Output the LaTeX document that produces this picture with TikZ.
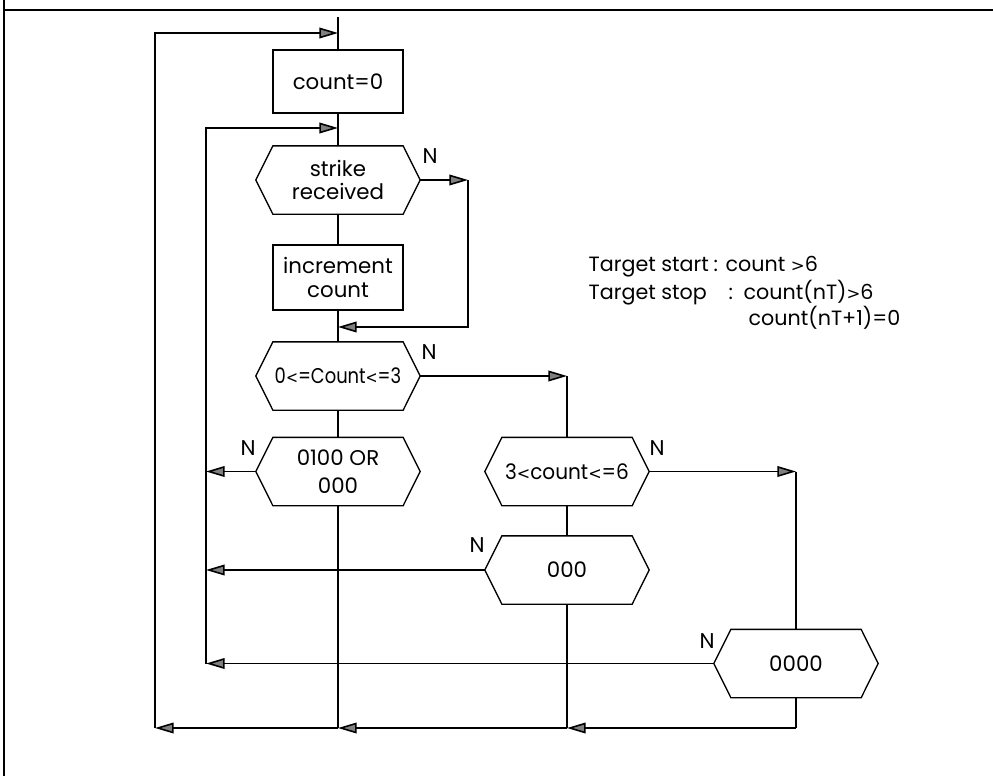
\documentclass[tikz,border=0pt]{standalone}
\usepackage{fontspec}
\usepackage{graphicx}
\setmainfont{Poppins}
\newfontfamily\dvfont[Scale=0.8]{DejaVu Sans}
\newcommand\lsym{{\dvfont<}}
\newcommand\gsym{{\dvfont>}}
\usetikzlibrary{arrows.meta,calc}
\newcommand\hexdraw[1]{\draw (#1.west) -- ([xshift=12.75pt]#1.north west) -- ([xshift=-12.75pt]#1.north east) -- (#1.east) -- ([xshift=-12.75pt]#1.south east) -- ([xshift=12.75pt]#1.south west) -- cycle;}
\begin{document}
\begin{tikzpicture}[x=0.75pt,y=-0.75pt,
  line width=1pt,
  txt/.style={font=\fontsize{16}{17.5}\selectfont},
  proc/.style={txt, draw, rectangle, minimum width=97.5pt, inner sep=0pt, align=center},
  hexbox/.style={txt, rectangle, minimum width=122.25pt, minimum height=50.25pt, inner sep=0pt, align=center},
  arr/.style={-{Triangle[length=14pt,width=8pt,line width=1.2pt,fill=gray]}},
  lab/.style={font=\fontsize{15.5}{17}\selectfont, inner sep=0pt, anchor=base west}
]
\useasboundingbox (0,0) rectangle (993,776);
% frame
\draw[line width=1.5pt] (4,0) -- (4,776);
\draw[line width=1.5pt] (4,10) -- (993,10);

% nodes
\node[proc, minimum height=47.25pt] (c0) at (338,81.5) {count=0};
\node[hexbox] (sr) at (338,180) {strike\\received};
\node[proc, minimum height=48.75pt] (inc) at (338,277.5) {increment\\count};
\node[hexbox] (d1) at (338,376) {\scalebox{0.84}[1]{0\lsym=Count\lsym=3}};
\node[hexbox] (d2) at (338,471.5) {0100 OR\\[4pt]000};
\node[hexbox] (d3) at (567,471.5) {\scalebox{0.94}[1]{3\lsym count\lsym=6}};
\node[hexbox] (d4) at (567,570) {000};
\node[hexbox] (d5) at (796,663.5) {0000};
\hexdraw{sr}
\hexdraw{d1}
\hexdraw{d2}
\hexdraw{d3}
\hexdraw{d4}
\hexdraw{d5}

% N labels
\node[txt] (n1) at (430,156) {N};
\node[txt] (n2) at (429,352) {N};
\node[txt] (n3) at (248,448) {N};
\node[txt] (n4) at (657,448) {N};
\node[txt] (n5) at (477,545) {N};
\node[txt] (n6) at (707,641) {N};

% coordinates
\coordinate (ms) at (338,17);
\coordinate (tl) at (155,33);
\coordinate (t1) at (338,33);
\coordinate (it) at (206,128);
\coordinate (t2) at (338,128);
\coordinate (sre) at (468,180);
\coordinate (srb) at (468,327);
\coordinate (t3) at (338,327);
\coordinate (c1) at (567,376);
\coordinate (c2) at (796,471.5);
\coordinate (bl) at (155,728);
\coordinate (b1) at (338,728);
\coordinate (b2) at (567,728);
\coordinate (b3) at (796,728);
\coordinate (i2) at (206,471.5);
\coordinate (i4) at (206,570);
\coordinate (i5) at (206,663.5);

% main column
\draw (ms) -- (c0.north);
\draw (c0.south) -- (sr.north);
\draw (sr.south) -- (inc.north);
\draw (inc.south) -- (d1.north);
\draw (d1.south) -- (d2.north);
\draw (d2.south) -- (b1);
% loops
\draw[arr] (bl) -- (tl) -- (t1);
\draw[arr] (i5) -- (it) -- (t2);
\draw[arr] (sr.east) -- (sre);
\draw[arr] (sre) -- (srb) -- (t3);
\draw[arr] (d1.east) -- (c1);
\draw (c1) -- (d3.north);
\draw[arr] (d2.west) -- (i2);
\draw[arr] (d3.east) -- (c2);
\draw (c2) -- (d5.north);
\draw (d3.south) -- (d4.north);
\draw (d4.south) -- (b2);
\draw[arr] (d4.west) -- (i4);
\draw[arr] (d5.west) -- (i5);
\draw (d5.south) -- (b3);
\draw[arr] (b3) -- (b2);
\draw[arr] (b2) -- (b1);
\draw[arr] (b1) -- (bl);

% notes
\node[lab] (ta) at (588,271) {Target start};
\node[lab] (tb) at (713,271) {:};
\node[lab] (tc) at (725,271) {count \gsym6};
\node[lab] (td) at (588,299) {Target stop};
\node[lab] (te) at (728,299) {:};
\node[lab] (tf) at (743,299) {count(nT)\gsym6};
\node[lab] (tg) at (748,325) {count(nT+1)=0};
\end{tikzpicture}
\end{document}
